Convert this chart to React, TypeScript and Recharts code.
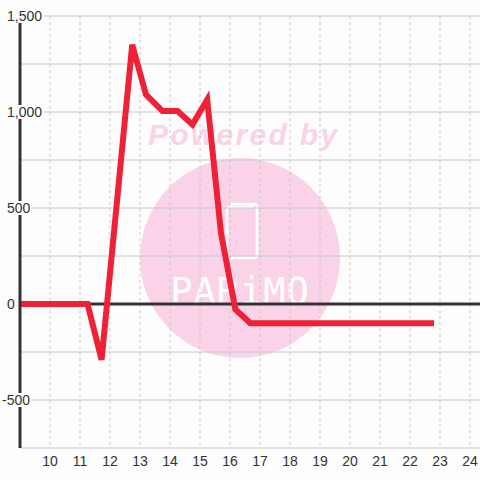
import React from "react";
import { LineChart, Line, XAxis, YAxis, CartesianGrid, ReferenceLine } from "recharts";

const hours = [9, 11.25, 11.72, 12.74, 13.2, 13.75, 14.25, 14.75, 15.24, 15.7, 16.18, 16.68, 22.8];
const values = [0, 0, -290, 1350, 1090, 1005, 1005, 935, 1065, 370, -28, -100, -100];
const xTicks = [10, 11, 12, 13, 14, 15, 16, 17, 18, 19, 20, 21, 22, 23, 24];
const yTicks = [-500, 0, 500, 1000, 1500];
const yGrid = [-500, -250, 250, 500, 750, 1000, 1250, 1500];

const data = hours.map((h, i) => ({ h, v: values[i] }));

const BG = "#fcfdfc";
const FONT = "'Liberation Sans', Arial, sans-serif";

const fmt = (v: number) => v.toLocaleString("en-US");

const YTick = (props: any) => {
  const { y, payload } = props;
  const label = fmt(payload.value);
  const w = label.length * 7.8 - (label.includes(",") ? 3.9 : 0) - (label.startsWith("-") ? 3.1 : 0);
  const x0 = payload.value < 0 ? 2 : 7;
  return (
    <g>
      <rect x={x0 - 1} y={y - 7} width={w + 3} height={14} fill={BG} />
      <text x={x0} y={y + 5} fontSize={14} fill="#333" fontFamily={FONT} textAnchor="start">
        {label}
      </text>
    </g>
  );
};

const XTick = (props: any) => {
  const { x, payload } = props;
  return (
    <text x={x} y={466} fontSize={14} fill="#333" fontFamily={FONT} textAnchor="middle">
      {payload.value}
    </text>
  );
};

const Watermark = () => (
  <svg width={480} height={480} style={{ position: "absolute", left: 0, top: 0 }}>
    <rect x={0} y={0} width={480} height={480} fill={BG} />
    <text x={148} y={145} fontSize={30} fontWeight="bold" fontStyle="italic" letterSpacing={2.3}
      fill="#fbd3e8" fontFamily={FONT}>Powered by</text>
    <circle cx={240} cy={258} r={100} fill="#fbd3e8" />
    <path d="M230 204 H254 Q257 204 257 207 V255 Q257 258 254 258 H230 Q227 258 227 255 V210 Q227 207 230 207 H252 V204"
      fill="none" stroke="#fff" strokeWidth={2.5} />
    <text x={240} y={304} fontSize={37} fill="#fff" textAnchor="middle" letterSpacing={1}
      fontFamily="'DejaVu Sans Mono', monospace">PARiMO</text>
  </svg>
);

export default function App() {
  return (
    <div style={{ position: "fixed", left: 0, top: 0, width: 480, height: 480, background: BG }}>
      <Watermark />
      <div style={{ position: "absolute", left: 0, top: 0 }}>
        <LineChart width={480} height={480} data={data} margin={{ top: 16, right: 0, bottom: 0, left: 0 }}>
          <CartesianGrid vertical={false} horizontalValues={yGrid} stroke="#c8c8c8" strokeWidth={1} />
          <CartesianGrid horizontal={false} verticalValues={xTicks} stroke="#c8c8c8" strokeDasharray="3 3" strokeWidth={1} />
          <XAxis dataKey="h" type="number" domain={[9, 24.3333]} ticks={xTicks} allowDataOverflow
            height={32} tickLine={false} axisLine={{ stroke: "#c8c8c8", strokeWidth: 1 }} tick={<XTick />} interval={0} />
          <YAxis type="number" domain={[-750, 1500]} ticks={yTicks} width={20} allowDataOverflow
            tickLine={false} axisLine={{ stroke: "#333", strokeWidth: 3 }} tick={<YTick />} interval={0} />
          <ReferenceLine y={0} stroke="#333" strokeWidth={3} />
          <Line type="linear" dataKey="v" stroke="#ef2136" strokeWidth={6} dot={false}
            isAnimationActive={false} strokeLinejoin="miter" />
        </LineChart>
      </div>
    </div>
  );
}
